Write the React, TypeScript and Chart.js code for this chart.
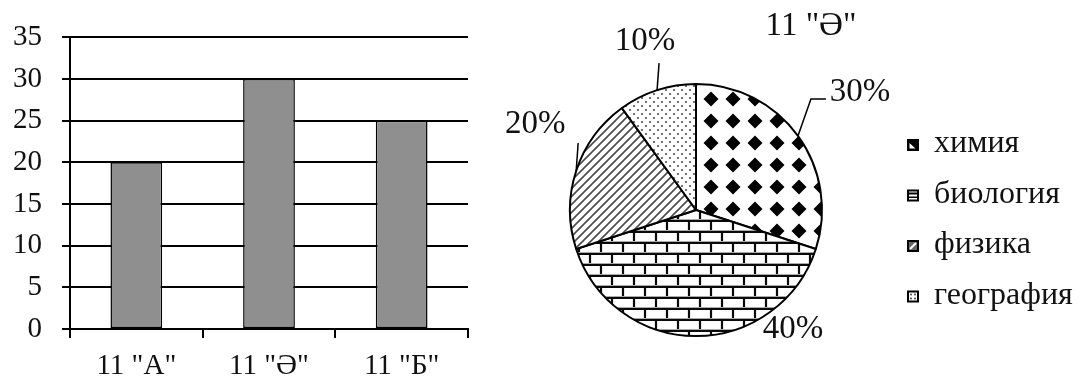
import React, { useEffect, useRef } from "react";
import { Chart, registerables } from "chart.js";

Chart.register(...registerables);

// ---------- data ----------
const barCategories = ['11 "А"', '11 "Ә"', '11 "Б"'];
const barValues = [20, 30, 25];
const yMin = 0;
const yMax = 35;
const yStep = 5;

const pieTitle = '11 "Ә"';
const pieLabels = ["химия", "биология", "физика", "география"];
const pieValues = [30, 40, 20, 10];
const pieValueLabels = ["30%", "40%", "20%", "10%"];

// ---------- layout / style (not data) ----------
const FONT = "'Liberation Serif', 'Times New Roman', serif";
const TEXT = "#111";
// callout layout relative to the arc's mid point on the rim: leader points and text centre
const callouts = [
  { leader: [[13, -37], [28, -37]], text: [62, -44] },
  { leader: [], text: [97, -7] },
  { leader: [[2, -28]], text: [-41, -47] },
  { leader: [[2, -27]], text: [-12, -49] },
];

function makeTile(w: number, h: number, draw: (c: CanvasRenderingContext2D) => void) {
  const cv = document.createElement("canvas");
  cv.width = w;
  cv.height = h;
  const c = cv.getContext("2d")!;
  c.fillStyle = "#fff";
  c.fillRect(0, 0, w, h);
  draw(c);
  return cv;
}

function makePatterns(ctx: CanvasRenderingContext2D) {
  const diamonds = makeTile(22, 22, (c) => {
    c.fillStyle = "#000";
    c.beginPath();
    c.moveTo(11, 3.5);
    c.lineTo(18.5, 11);
    c.lineTo(11, 18.5);
    c.lineTo(3.5, 11);
    c.closePath();
    c.fill();
  });
  const bricks = makeTile(44, 22, (c) => {
    c.strokeStyle = "#0a0a0a";
    c.lineWidth = 2.2;
    c.beginPath();
    c.moveTo(0, 1); c.lineTo(44, 1);
    c.moveTo(0, 12); c.lineTo(44, 12);
    c.moveTo(11, 1); c.lineTo(11, 12);
    c.moveTo(33, 1); c.lineTo(33, 12);
    c.moveTo(0, 12); c.lineTo(0, 23);
    c.moveTo(22, 12); c.lineTo(22, 23);
    c.moveTo(44, 12); c.lineTo(44, 23);
    c.stroke();
    c.strokeStyle = "#aaa";
    c.lineWidth = 1;
    c.beginPath();
    c.moveTo(0, 10.5); c.lineTo(44, 10.5);
    c.moveTo(0, 21.5); c.lineTo(44, 21.5);
    c.stroke();
  });
  const hatch = makeTile(8, 8, (c) => {
    c.strokeStyle = "#4a4a4a";
    c.lineWidth = 1.6;
    c.beginPath();
    c.moveTo(-2, 10); c.lineTo(10, -2);
    c.moveTo(-6, 6); c.lineTo(6, -6);
    c.moveTo(2, 14); c.lineTo(14, 2);
    c.stroke();
  });
  const dots = makeTile(8, 8, (c) => {
    c.fillStyle = "#555";
    c.beginPath();
    c.arc(2, 2, 1.1, 0, Math.PI * 2);
    c.arc(6, 6, 1.1, 0, Math.PI * 2);
    c.fill();
  });
  return [diamonds, bricks, hatch, dots].map((t) => ctx.createPattern(t, "repeat")!);
}

function drawLegendIcon(c: CanvasRenderingContext2D, i: number, x: number, y: number) {
  const s = 12;
  c.save();
  c.fillStyle = "#fff";
  c.fillRect(x, y, s, s);
  if (i === 0) {
    c.fillStyle = "#000";
    c.fillRect(x, y, s, s);
    c.fillStyle = "#fff";
    c.beginPath();
    c.moveTo(x + 2.5, y + 4);
    c.lineTo(x + 2.5, y + 9.5);
    c.lineTo(x + 8.5, y + 9.5);
    c.closePath();
    c.fill();
  } else if (i === 1) {
    c.fillStyle = "#000";
    c.fillRect(x, y + 3, s, 2);
    c.fillRect(x, y + 7, s, 1.5);
  } else if (i === 2) {
    c.fillStyle = "#666";
    c.fillRect(x, y, s, s);
    c.strokeStyle = "#fff";
    c.lineWidth = 2;
    c.beginPath();
    c.moveTo(x + 3, y + 9);
    c.lineTo(x + 9, y + 3);
    c.stroke();
  } else {
    c.fillStyle = "#333";
    [[4, 4], [8, 8], [4, 8], [8, 4]].forEach(([dx, dy]) => {
      c.beginPath();
      c.arc(x + dx, y + dy, 0.9, 0, Math.PI * 2);
      c.fill();
    });
  }
  c.strokeStyle = "#000";
  c.lineWidth = 2;
  c.strokeRect(x + 1, y + 1, s - 2, s - 2);
  c.restore();
}

export default function App() {
  const barRef = useRef<HTMLCanvasElement>(null);
  const pieRef = useRef<HTMLCanvasElement>(null);

  useEffect(() => {
    const barChart = new Chart(barRef.current!, {
      type: "bar",
      data: {
        labels: barCategories,
        datasets: [
          {
            data: barValues,
            backgroundColor: "#8f8f8f",
            borderColor: "#000",
            borderWidth: 1.5,
            borderSkipped: false,
            categoryPercentage: 1,
            barPercentage: 0.39,
          },
        ],
      },
      options: {
        animation: false,
        responsive: false,
        devicePixelRatio: 1,
        layout: { padding: { top: 27, right: 12, left: 0, bottom: 0 } },
        plugins: { legend: { display: false }, tooltip: { enabled: false } },
        scales: {
          x: {
            offset: true,
            grid: { offset: true, drawOnChartArea: false, drawTicks: true, tickLength: 9, color: "#000", lineWidth: 2 },
            border: { display: true, color: "#000", width: 2 },
            ticks: { font: { family: FONT, size: 29 }, color: TEXT, padding: 11 },
            afterFit: (s: any) => { s.height = 54; },
          },
          y: {
            min: yMin,
            max: yMax,
            ticks: { stepSize: yStep, font: { family: FONT, size: 29 }, color: TEXT, padding: 20 },
            grid: { color: "#000", lineWidth: 2, tickLength: 8 },
            border: { display: true, color: "#000", width: 2 },
            afterFit: (s: any) => { s.width = 70; },
          },
        },
      },
    });

    const pctx = pieRef.current!.getContext("2d")!;
    const patterns = makePatterns(pctx);

    const annotate = {
      id: "pieAnnotations",
      afterDraw(chart: any) {
        const c: CanvasRenderingContext2D = chart.ctx;
        const meta = chart.getDatasetMeta(0);
        let cx = 0, cy = 0, R = 0;
        c.save();
        meta.data.forEach((arc: any, i: number) => {
          const p = arc.getProps(["x", "y", "startAngle", "endAngle", "outerRadius"], true);
          cx = p.x; cy = p.y; R = p.outerRadius;
          const mid = (p.startAngle + p.endAngle) / 2;
          const ax = p.x + Math.cos(mid) * p.outerRadius;
          const ay = p.y + Math.sin(mid) * p.outerRadius;
          const co = callouts[i];
          if (co.leader.length) {
            c.strokeStyle = "#000";
            c.lineWidth = 1.5;
            c.beginPath();
            c.moveTo(ax, ay);
            co.leader.forEach(([dx, dy]) => c.lineTo(ax + dx, ay + dy));
            c.stroke();
          }
          c.fillStyle = TEXT;
          c.font = `33px ${FONT}`;
          c.textAlign = "center";
          c.textBaseline = "middle";
          c.fillText(pieValueLabels[i], ax + co.text[0], ay + co.text[1]);
        });
        // title
        c.font = `33px ${FONT}`;
        c.textAlign = "center";
        c.textBaseline = "middle";
        c.fillStyle = TEXT;
        c.fillText(pieTitle, cx + 115, cy - 184);
        // legend
        const lx = cx + R + 85;
        c.font = `32px ${FONT}`;
        c.textAlign = "left";
        c.textBaseline = "alphabetic";
        pieLabels.forEach((lab, i) => {
          const base = cy - 58 + i * 50.5;
          drawLegendIcon(c, i, lx, base - 13);
          c.fillStyle = TEXT;
          c.fillText(lab, lx + 27, base);
        });
        c.restore();
      },
    };

    const pieChart = new Chart(pieRef.current!, {
      type: "pie",
      data: {
        labels: pieLabels,
        datasets: [
          {
            data: pieValues,
            backgroundColor: patterns as any,
            borderColor: "#000",
            borderWidth: 2,
          },
        ],
      },
      options: {
        animation: false,
        responsive: false,
        devicePixelRatio: 1,
        layout: { padding: { left: 89, top: 83, right: 265, bottom: 46 } },
        plugins: { legend: { display: false }, tooltip: { enabled: false } },
      },
      plugins: [annotate],
    });

    return () => {
      barChart.destroy();
      pieChart.destroy();
    };
  }, []);

  return (
    <div style={{ position: "absolute", left: 0, top: 0, width: 1088, height: 383, background: "#fff", overflow: "hidden" }}>
      <canvas ref={barRef} width={480} height={383} style={{ position: "absolute", left: 0, top: 0, width: 480, height: 383 }} />
      <canvas ref={pieRef} width={608} height={383} style={{ position: "absolute", left: 480, top: 0, width: 608, height: 383 }} />
    </div>
  );
}
